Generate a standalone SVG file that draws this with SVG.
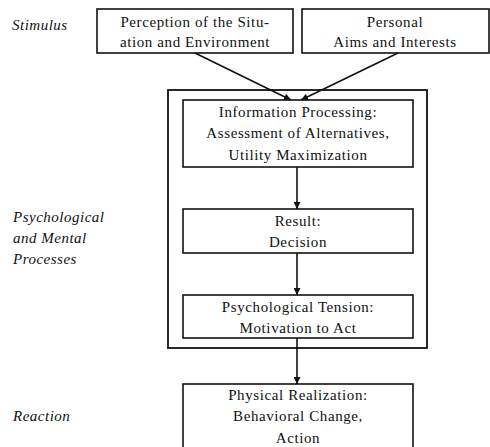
<svg xmlns="http://www.w3.org/2000/svg" width="490" height="447" viewBox="0 0 490 447">
<style>
  .box { fill: #fff; stroke: #111; stroke-width: 1.6; }
  .outer { fill: none; stroke: #111; stroke-width: 1.8; }
  .t { font-family: "Liberation Serif", "DejaVu Serif", serif; font-size: 15px; letter-spacing: 0.6px; fill: #111; text-anchor: middle; }
  .lbl { font-family: "Liberation Serif", "DejaVu Serif", serif; font-size: 15px; letter-spacing: 0.5px; font-style: italic; fill: #111; }
  .c { stroke: #111; stroke-width: 1.6; fill: none; marker-end: url(#ah); }
</style>
<defs>
  <marker id="ah" viewBox="0 0 10 10" refX="10" refY="5" markerWidth="8" markerHeight="7" markerUnits="userSpaceOnUse" orient="auto">
    <path d="M0,0 L10,5 L0,10 z" fill="#111"/>
  </marker>
</defs>
<rect width="490" height="447" fill="#fff"/>

<g id="labels">
  <text class="lbl" x="12" y="30">Stimulus</text>
  <text class="lbl" x="13" y="222">Psychological</text>
  <text class="lbl" x="13" y="243">and Mental</text>
  <text class="lbl" x="13" y="264">Processes</text>
  <text class="lbl" x="13" y="421">Reaction</text>
</g>

<g id="outer">
  <rect class="outer" x="168" y="90" width="259" height="258"/>
</g>

<g id="perception">
  <rect class="box" x="97" y="9" width="196" height="44"/>
  <text class="t" x="195" y="27">Perception of the Situ-</text>
  <text class="t" x="195" y="47">ation and Environment</text>
</g>
<g id="aims">
  <rect class="box" x="302" y="9" width="187" height="44"/>
  <text class="t" x="395" y="27">Personal</text>
  <text class="t" x="395" y="47">Aims and Interests</text>
</g>
<g id="info">
  <rect class="box" x="183" y="100" width="230" height="67"/>
  <text class="t" x="298" y="117">Information Processing:</text>
  <text class="t" x="298" y="138">Assessment of Alternatives,</text>
  <text class="t" x="298" y="160">Utility Maximization</text>
</g>
<g id="result">
  <rect class="box" x="183" y="209" width="230" height="44"/>
  <text class="t" x="298" y="226">Result:</text>
  <text class="t" x="298" y="247">Decision</text>
</g>
<g id="tension">
  <rect class="box" x="183" y="295" width="230" height="43"/>
  <text class="t" x="298" y="312">Psychological Tension:</text>
  <text class="t" x="298" y="333">Motivation to Act</text>
</g>
<g id="physical">
  <rect class="box" x="183" y="384" width="230" height="70"/>
  <text class="t" x="298" y="400">Physical Realization:</text>
  <text class="t" x="298" y="421">Behavioral Change,</text>
  <text class="t" x="298" y="443">Action</text>
</g>

<g id="connectors">
  <line class="c" x1="195" y1="53" x2="291" y2="100"/>
  <line class="c" x1="398" y1="53" x2="301" y2="100"/>
  <line class="c" x1="297" y1="167" x2="297" y2="209"/>
  <line class="c" x1="297" y1="253" x2="297" y2="295"/>
  <line class="c" x1="297" y1="338" x2="297" y2="384"/>
</g>
</svg>
